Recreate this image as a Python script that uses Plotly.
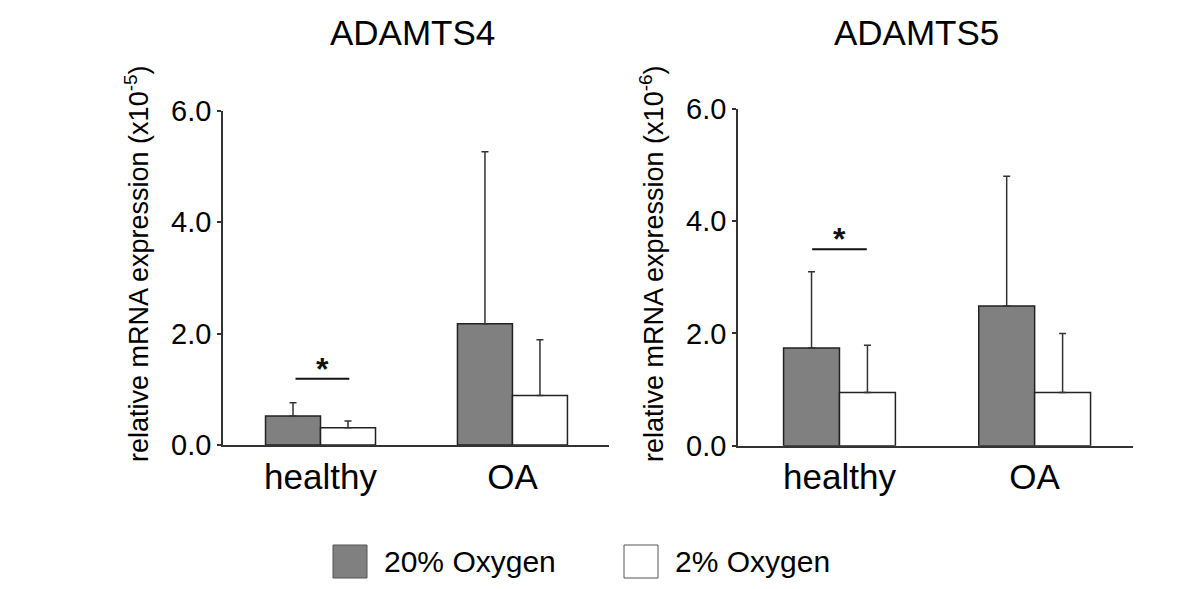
import plotly.graph_objects as go

W, H = 1200, 589
OFF = 8  # page body margin offset in the rendered page

categories = ["healthy", "OA"]
series_names = ["20% Oxygen", "2% Oxygen"]
series_colors = ["#808080", "#ffffff"]

titles = ["ADAMTS4", "ADAMTS5"]
exponents = ["-5", "-6"]

# values (relative mRNA expression, in units of the exponent)
adamts4_20 = [0.52, 2.18]
adamts4_20_err = [0.24, 3.09]
adamts4_2 = [0.31, 0.89]
adamts4_2_err = [0.12, 1.00]

adamts5_20 = [1.74, 2.49]
adamts5_20_err = [1.36, 2.31]
adamts5_2 = [0.95, 0.95]
adamts5_2_err = [0.84, 1.05]

# significance brackets: (x0, x1, y) in data units
sig_left = [-0.13, 0.15, 1.19]
sig_right = [-0.14, 0.14, 3.50]

y_ticks = [0, 2, 4, 6]
y_ticktext = ["0.0", "2.0", "4.0", "6.0"]


def px(x):
    return (x - OFF) / W


def py(y):
    return 1 - (y - OFF) / H


panels = [
    dict(vals=[adamts4_20, adamts4_2], errs=[adamts4_20_err, adamts4_2_err], sig=sig_left,
         xdom=(px(223), px(609)), ydom=(py(445), py(111)), xr=[-0.508, 1.503]),
    dict(vals=[adamts5_20, adamts5_2], errs=[adamts5_20_err, adamts5_2_err], sig=sig_right,
         xdom=(px(738), px(1133)), ydom=(py(445.7), py(109)), xr=[-0.52, 1.504]),
]

FONT = "Liberation Sans, Arial, sans-serif"
LINE = "#333333"

fig = go.Figure()
shapes = []
annotations = []

for i, p in enumerate(panels):
    xa = "x" if i == 0 else "x2"
    ya = "y" if i == 0 else "y2"
    for s in range(2):
        fig.add_trace(go.Bar(
            x=categories, y=p["vals"][s], name=series_names[s],
            marker=dict(color=series_colors[s], line=dict(color="#222222", width=1.5)),
            error_y=dict(type="data", array=p["errs"][s], arrayminus=[0] * len(categories),
                         symmetric=False, color="#333333", thickness=1.5, width=3.5),
            xaxis=xa, yaxis=ya, showlegend=False,
        ))
    x0, x1, yv = p["sig"]
    shapes.append(dict(type="line", xref=xa, yref=ya, x0=x0, x1=x1, y0=yv, y1=yv,
                       line=dict(color="#111111", width=2)))
    annotations.append(dict(x=(x0 + x1) / 2, y=yv, xref=xa, yref=ya, text="<b>*</b>",
                            showarrow=False, yanchor="bottom", yshift=-10,
                            font=dict(family=FONT, size=32, color="#111111")))
    # panel title
    annotations.append(dict(x=px([412.5, 916][i]), y=py(32), xref="paper", yref="paper",
                            text=titles[i], showarrow=False, xanchor="center", yanchor="middle",
                            font=dict(family=FONT, size=35, color="#000000")))
    # y-axis title
    annotations.append(dict(x=px([137, 652][i]), y=py(264), xref="paper", yref="paper",
                            text="relative mRNA expression (x10<sup>" + exponents[i] + "</sup>)",
                            textangle=-90, showarrow=False, xanchor="center", yanchor="middle",
                            font=dict(family=FONT, size=27, color="#000000")))

axis_common_x = dict(showline=True, linecolor=LINE, linewidth=1.5, ticks="", showgrid=False,
                     zeroline=False, tickfont=dict(family=FONT, size=35, color="#000000"),
                     type="category", automargin=False)
axis_common_y = dict(showline=True, linecolor=LINE, linewidth=1.5, ticks="outside", ticklen=4,
                     tickcolor=LINE, tickwidth=1.5, showgrid=False, zeroline=False,
                     range=[0, 6], tickvals=y_ticks, ticktext=y_ticktext, automargin=False,
                     tickfont=dict(family=FONT, size=29, color="#000000"))

fig.update_layout(
    width=W, height=H, autosize=False,
    margin=dict(l=0, r=0, t=0, b=0, pad=0, autoexpand=False),
    paper_bgcolor="white", plot_bgcolor="white",
    barmode="group", bargap=0.427, bargroupgap=0,
    xaxis=dict(domain=list(panels[0]["xdom"]), range=panels[0]["xr"], anchor="y", **axis_common_x),
    yaxis=dict(domain=list(panels[0]["ydom"]), anchor="x", **axis_common_y),
    xaxis2=dict(domain=list(panels[1]["xdom"]), range=panels[1]["xr"], anchor="y2", **axis_common_x),
    yaxis2=dict(domain=list(panels[1]["ydom"]), anchor="x2", **axis_common_y),
    showlegend=False,
)

# custom legend
legend_items = [(333, 367, 381.7), (624, 658, 673)]
for s, (bx0, bx1, tx) in enumerate(legend_items):
    shapes.append(dict(type="rect", xref="paper", yref="paper",
                       x0=px(bx0), x1=px(bx1), y0=py(578), y1=py(545),
                       fillcolor=series_colors[s], line=dict(color="#555555", width=1)))
    annotations.append(dict(x=px(tx), y=py(561), xref="paper", yref="paper",
                            text=series_names[s], showarrow=False, xanchor="left", yanchor="middle",
                            font=dict(family=FONT, size=30, color="#000000")))

fig.update_layout(shapes=shapes, annotations=annotations)
fig.write_html("out.html")
